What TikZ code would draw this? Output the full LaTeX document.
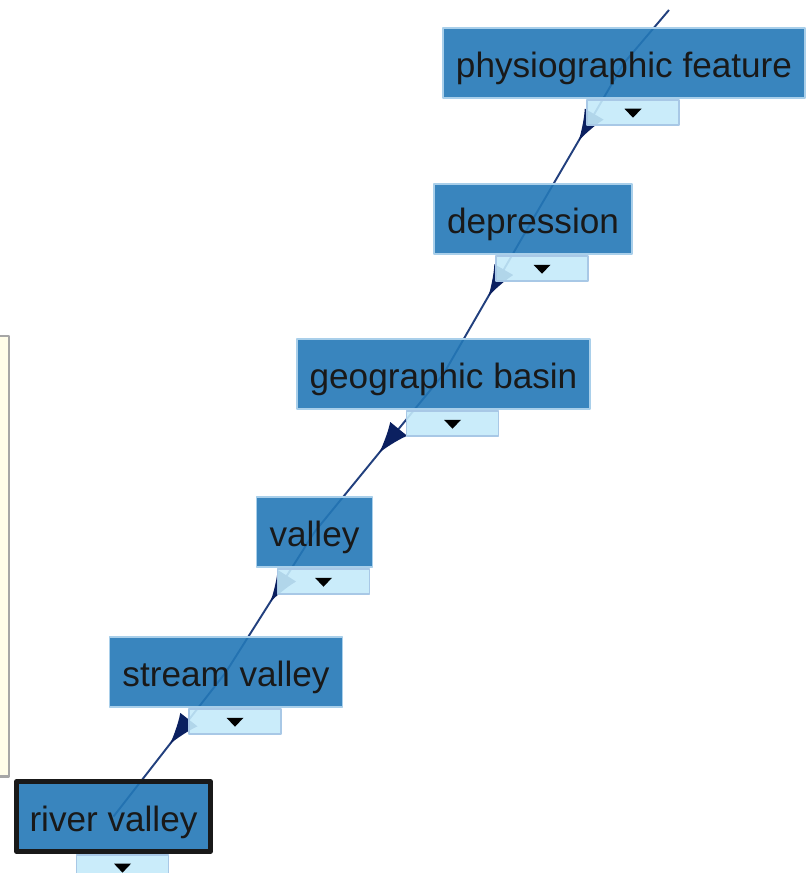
\documentclass[tikz,border=0pt]{standalone}
\usepackage{fontspec}
\setmainfont{Liberation Sans}
\usetikzlibrary{arrows.meta,decorations.markings}
\pgfdeclarelayer{behind}
\pgfsetlayers{behind,main}
\definecolor{boxblue}{HTML}{2478B7}
\definecolor{boxrim}{HTML}{A9CFEA}
\definecolor{tabblue}{HTML}{C4EAFA}
\definecolor{tabrim}{HTML}{A8C8E6}
\definecolor{edgenavy}{HTML}{22407E}
\definecolor{tipnavy}{HTML}{0B2060}
\definecolor{panelcream}{HTML}{FFFDE9}
\tikzset{
  concept/.style={draw=boxrim, line width=1pt, fill=boxblue, fill opacity=0.9, text opacity=1,
    text=black!90, minimum height=1.4cm, inner xsep=0.26cm, text height=0.6cm, text depth=0cm,
    font=\fontsize{20}{24}\selectfont},
  picked/.style={draw=black!90, line width=2.6pt},
  tabbox/.style={draw=tabrim, line width=1pt, fill=tabblue, fill opacity=0.9,
    minimum width=1.84cm, minimum height=0.5cm, inner sep=0pt},
  isa/.style={draw=edgenavy, line width=1.1pt, postaction={decorate},
    decoration={markings, mark=at position #1 with {\arrow[tipnavy]{Latex[length=0.62cm,width=0.44cm]}}}},
}
\begin{document}
\begin{tikzpicture}[line join=round, line cap=round]
  \useasboundingbox (0,0) rectangle (16.14,17.46);
  % side panel edge
  \draw[fill=panelcream, draw=black!35, line width=1.6pt] (-0.2,1.93) rectangle (0.18,10.74);
  % nodes
  \node[concept] (pf) at (12.48,16.2) {physiographic feature};
  \node[concept] (dep) at (10.66,13.08) {depression};
  \node[concept] (gb) at (8.87,9.98) {geographic basin};
  \node[concept] (val) at (6.29,6.82) {valley};
  \node[concept] (sv) at (4.52,4.02) {stream valley};
  \node[concept, picked] (rv) at (2.27,1.13) {river valley};
  \coordinate (up) at (13.38,17.26);
  % edges, under the boxes
  \begin{pgfonlayer}{behind}
    \draw[edgenavy, line width=1.1pt] (up) -- (pf.center);
    \draw[isa=0.5] (pf.center) -- (dep.center);
    \draw[isa=0.5] (dep.center) -- (gb.center);
    \draw[isa=0.5] (gb.center) -- (val.center);
    \draw[isa=0.5] (val.center) -- (sv.center);
    \draw[isa=0.5] (sv.center) -- (rv.center);
  \end{pgfonlayer}
  % expand tabs
  \foreach \n in {pf,dep,gb,val,sv,rv}{
    \node[tabbox, anchor=north] (\n tab) at ([xshift=0.18cm]\n.south) {};
    \fill[black] ([xshift=-0.17cm,yshift=0.07cm]\n tab.center) -- ([xshift=0.17cm,yshift=0.07cm]\n tab.center)
      -- ([yshift=-0.11cm]\n tab.center) -- cycle;
  }
\end{tikzpicture}
\end{document}
